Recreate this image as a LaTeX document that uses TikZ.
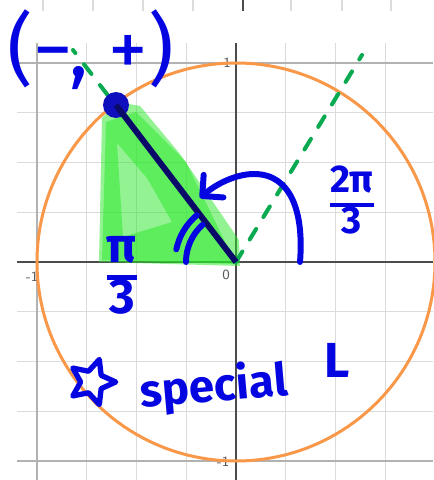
\documentclass[tikz,border=0pt]{standalone}
\usepackage{fontspec}
\newfontfamily\inkfont{Fira Sans}
\usetikzlibrary{arrows.meta, shapes.geometric}

\definecolor{inkblue}{RGB}{5,5,225}
\definecolor{navyline}{RGB}{10,10,105}
\definecolor{dotblue}{RGB}{15,15,190}
\definecolor{circorange}{RGB}{248,152,72}
\definecolor{raygreen}{RGB}{10,170,80}
\definecolor{glowgreen}{RGB}{40,232,40}

\newcommand{\inkfrac}[2]{\setlength{\arrayrulewidth}{2.6pt}%
  \renewcommand{\arraystretch}{0.85}%
  \begin{tabular}{@{}c@{}}#1\\\hline #2\end{tabular}}

\begin{document}
\begin{tikzpicture}[x=0.02cm, y=0.02cm,
    minorgrid/.style={draw=gray!28, line width=0.7pt},
    majorgrid/.style={draw=gray!60, line width=0.7pt},
    axis/.style={draw=black!70, line width=1.1pt},
    tick/.style={font=\sffamily\fontsize{8}{8}\selectfont, text=black!65, inner sep=0pt},
    unitcircle/.style={draw=circorange, line width=1.7pt},
    ray/.style={draw=raygreen, line width=2.3pt, line cap=round, dash pattern=on 7pt off 8pt},
    ink/.style={draw=inkblue, line width=3.4pt, line cap=round},
    inktext/.style={text=inkblue, inner sep=0pt},
    glow/.style={fill=glowgreen, fill opacity=0.5},
]
\fill[white] (-236,-218) rectangle (197,262);
\useasboundingbox (-236,-218) rectangle (197,262);

% grid
\foreach \k in {-3,-2,-1,1,2,3} {
  \draw[minorgrid] (\k*49.75,-218) -- (\k*49.75,219);
  \draw[minorgrid] (-219,\k*49.75) -- (197,\k*49.75);
}
\draw[majorgrid] (-199,-218) -- (-199,219);
\foreach \y in {-199,199} \draw[majorgrid] (-219,\y) -- (197,\y);
\foreach \x in {-193,-143,-93,-43,55,106,155} \draw[minorgrid] (\x,251) -- (\x,262);
\draw[axis] (7,251) -- (7,262);
\draw[axis] (-219,0) -- (197,0);
\draw[axis] (0,-218) -- (0,219);

\node[tick] (xmin) at (-204,-15) {-1};
\node[tick] (zero) at (-10,-13) {0};
\node[tick] (ymax) at (-9,199) {1};
\node[tick] (ymin) at (-13,-200) {-1};

\draw[unitcircle] (0,0) circle[radius=199];

% shaded triangle
\fill[glow] (-134,144) -- (-137,0) -- (4,-4) -- (3,22) -- (-56,108) -- (-96,156) -- (-118,160) -- cycle;
\fill[glow, even odd rule] (-130,140) -- (-134,2) -- (0,-2) -- (-50,100) -- (-100,150) -- cycle
  (-119,119) -- (-113,25) -- (-64,40) -- (-89,84) -- cycle;

\coordinate (O) at (0,0);
\coordinate (rtip) at (126,207);
\coordinate (ltip) at (-163,212);
\draw[ray] (O) -- (rtip);
\draw[ray] (O) -- (ltip);

\node[circle, fill=dotblue, minimum size=0.52cm, inner sep=0pt] (pt) at (-120,157) {};
\draw[draw=navyline, line width=3.4pt] (O) -- (pt.center);

% angle marks
\draw[ink] (O) ++(168:61) arc[start angle=168, end angle=130, radius=61];
\draw[ink] (O) ++(180:50) arc[start angle=180, end angle=132, radius=50];
\draw[ink, -{Straight Barb[length=3mm, width=6mm, round]}]
  (64,0) .. controls (68,50) and (55,88) .. (18,88) .. controls (0,88) and (-20,78) .. (-36,64);

\node[inktext, font=\inkfont\fontsize{45}{45}\selectfont] (sign) at (-145,212) {(−, +)};
\node[inktext, font=\inkfont\bfseries\fontsize{22}{22}\selectfont] (bigang) at (116,57) {\inkfrac{2π}{3}};
\node[inktext, font=\inkfont\bfseries\fontsize{28}{28}\selectfont] (refang) at (-114,-18) {\inkfrac{π}{3}};
\node[star, star points=5, star point ratio=2.1, draw=inkblue, line width=3pt, line join=round,
      minimum size=0.95cm, inner sep=0pt, rotate=-18] (star) at (-144,-120) {};
\node[inktext, font=\inkfont\bfseries\fontsize{26}{26}\selectfont, rotate=5] (special) at (-22,-126) {special};
\node[inktext, font=\inkfont\bfseries\fontsize{28}{28}\selectfont] (angl) at (101,-98) {L};
\end{tikzpicture}
\end{document}
